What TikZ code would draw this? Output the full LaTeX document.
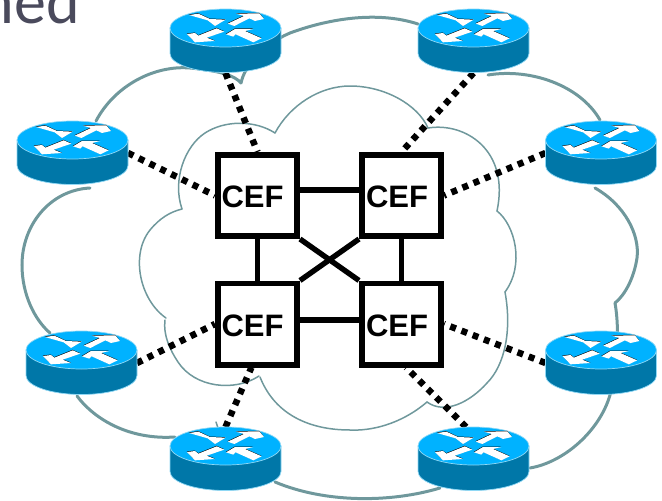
\documentclass[tikz,border=0pt]{standalone}
\usepackage{fontspec}
\setmainfont{Liberation Sans}
\newfontfamily\titlefont{Carlito}
\definecolor{cloudc}{HTML}{6F989C}
\definecolor{routertop}{HTML}{00B2FF}
\definecolor{routerside}{HTML}{0077A8}
\definecolor{routerrim}{HTML}{8FD8F5}
\definecolor{titlec}{HTML}{4A4A5C}
\newcommand{\arrowset}{%
  (72,30) -- (100,26) -- (135,42) -- (182,44) -- (150,63) -- (128,46) -- cycle
  (188,56) -- (237,33) -- (213,26) -- (283,25) -- (297,42) -- (270,48) -- (253,40) -- (208,63) -- cycle
  (66,87) -- (90,84) -- (100,92) -- (155,70) -- (178,80) -- (125,98) -- (150,108) -- (90,112) -- cycle
  (183,88) -- (210,72) -- (265,72) -- (240,78) -- (290,100) -- (265,112) -- (212,88) -- (205,95) -- cycle}
\newcommand{\routerart}[2]{%
  \begin{scope}[shift={(#1,#2)}]
    \path[fill=routerside,draw=routerrim,line width=.7pt]
      (-55.5,0) -- (-55.5,25.5) arc[start angle=180,end angle=0,x radius=55.5,y radius=19] -- (55.5,0) -- cycle;
    \path[fill=routertop,draw=routerrim,line width=.7pt] (0,0) ellipse[x radius=55.5,y radius=19];
    \begin{scope}[shift={(-60.5,-23)},x=.3333pt,y=-.3333pt]
      \fill[black,shift={(-.5,-1.5)}] \arrowset;
      \fill[white] \arrowset;
    \end{scope}
  \end{scope}}
\tikzset{
  routernode/.style={minimum width=111pt,minimum height=64pt,inner sep=0pt,outer sep=0pt},
  cefbox/.style={draw=black,fill=white,line width=5.6pt,minimum width=79.4pt,minimum height=81.4pt,inner sep=0pt},
  ceftext/.style={font=\bfseries\fontsize{31}{31}\selectfont,text=black,inner sep=0pt},
  outercloud/.style={draw=cloudc,line width=3pt,line cap=round},
  innercloud/.style={draw=cloudc,line width=1.5pt,line cap=round},
  dotlink/.style={draw=black,line width=6.5pt,dash pattern=on 6pt off 6pt},
  boxlink/.style={draw=black,line width=5.4pt}
}
\begin{document}
\begin{tikzpicture}[x=1pt,y=-1pt]
\useasboundingbox (0,0) rectangle (662,501);
\node[anchor=base east,inner sep=0pt,text=titlec,font=\titlefont\fontsize{64}{64}\selectfont] (title) at (80,23) {ned};
% named nodes
\node[routernode] (r1) at (225.5,41) {};
\node[routernode] (r2) at (473.5,41) {};
\node[routernode] (r3) at (72.5,153) {};
\node[routernode] (r4) at (601,153) {};
\node[routernode] (r5) at (81.5,363) {};
\node[routernode] (r6) at (601,363) {};
\node[routernode] (r7) at (225.5,459) {};
\node[routernode] (r8) at (473.5,459) {};
% outer cloud
\path[outercloud] (96,121) .. controls (115,85) and (155,65) .. (190,68) .. controls (222,71) and (235,76) .. (241,83);
\path[outercloud] (241,83) .. controls (245,65) and (262,45) .. (290,33) .. controls (325,20) and (375,10) .. (418,24);
\path[outercloud] (488,75) .. controls (530,68) and (580,85) .. (600,120);
\path[outercloud] (595,188) .. controls (625,205) and (640,235) .. (637,258) .. controls (634,278) and (625,295) .. (615,303);
\path[outercloud] (615,303) .. controls (618,320) and (620,350) .. (610,395) .. controls (600,430) and (565,462) .. (530,468);
\path[outercloud] (440,488) .. controls (390,503) and (325,503) .. (275,482);
\path[outercloud] (175,437) .. controls (130,440) and (95,420) .. (77,396);
\path[outercloud] (90,188) .. controls (50,190) and (22,225) .. (22,265) .. controls (22,295) and (35,320) .. (50,333);
\path[innercloud] (216,422) -- (218,428);
% inner cloud
\path[innercloud] (275,133) .. controls (255,120) and (225,120) .. (205,133) .. controls (185,146) and (172,180) .. (182,209);
\path[innercloud] (275,133) .. controls (290,105) and (320,86) .. (350,86) .. controls (385,86) and (418,105) .. (428,128);
\path[innercloud] (428,128) .. controls (465,122) and (510,150) .. (497,211);
\path[innercloud] (497,211) .. controls (515,225) and (525,265) .. (505,292);
\path[innercloud] (505,292) .. controls (512,330) and (505,365) .. (487,383) .. controls (470,402) and (445,415) .. (427,402);
\path[innercloud] (427,402) .. controls (400,425) and (370,431) .. (350,430) .. controls (310,430) and (275,415) .. (260,377);
\path[innercloud] (259,376) .. controls (235,392) and (195,388) .. (178,362) .. controls (170,350) and (163,335) .. (165,320);
\path[innercloud] (166,318) .. controls (140,300) and (130,255) .. (150,230) .. controls (160,218) and (170,212) .. (182,209);
% CEF boxes
\node[cefbox] (c1) at (257.5,195.5) {};
\node[cefbox] (c2) at (401.5,195.5) {};
\node[cefbox] (c3) at (257.5,324) {};
\node[cefbox] (c4) at (401.5,324) {};
\node[ceftext] (t1) at (252.5,197) {CEF};
\node[ceftext] (t2) at (397,197) {CEF};
\node[ceftext] (t3) at (252.5,326) {CEF};
\node[ceftext] (t4) at (397,326) {CEF};
% dotted links
\path[dotlink] (r1.south) -- (c1.north);
\path[dotlink] (r2.south) -- (c2.north);
\path[dotlink] (r3.east) -- (c1.west);
\path[dotlink] (r4.west) -- (c2.east);
\path[dotlink] (r5.east) -- (c3.west);
\path[dotlink] (r6.west) -- (c4.east);
\path[dotlink] (r7.north) -- (c3.-98);
\path[dotlink] (r8.103) -- (c4.-84);
% solid links
\path[boxlink] ([yshift=5.5pt]c1.east) -- ([yshift=5.5pt]c2.west);
\path[boxlink] ([yshift=4pt]c3.east) -- ([yshift=4pt]c4.west);
\path[boxlink] (c1.south) -- (c3.north);
\path[boxlink] (c2.south) -- (c4.north);
\path[boxlink] (c1.south east) -- (c4.north west);
\path[boxlink] (c2.south west) -- (c3.north east);
% router artwork
\routerart{225.5}{28}
\routerart{473.5}{28}
\routerart{72.5}{140}
\routerart{601}{140}
\routerart{81.5}{350}
\routerart{601}{350}
\routerart{225.5}{446}
\routerart{473.5}{446}
\end{tikzpicture}
\end{document}
